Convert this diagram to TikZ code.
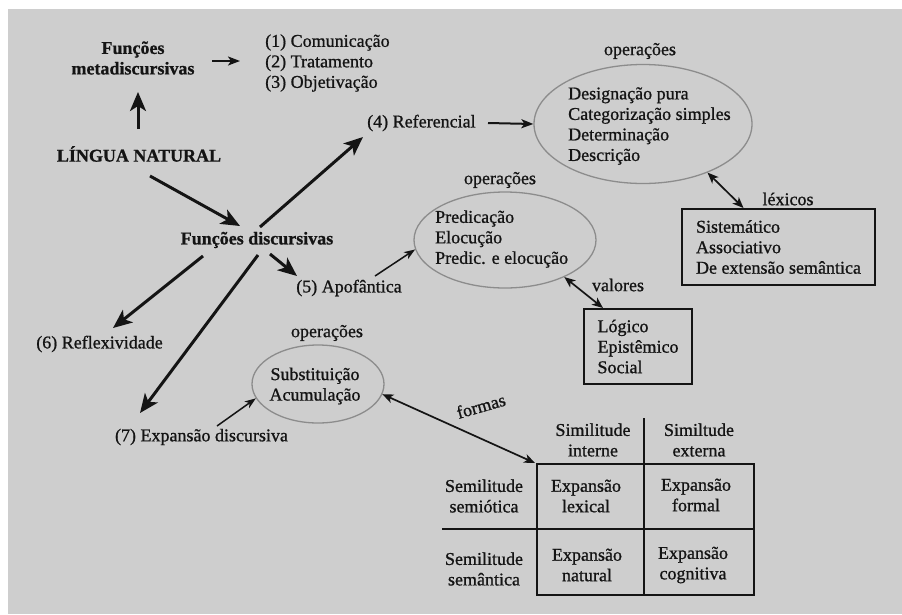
\documentclass[tikz,border=0pt]{standalone}
\usepackage{fontspec}
\setmainfont{Liberation Serif}[FakeBold=0.9]
\usetikzlibrary{arrows.meta,shapes.geometric}
\definecolor{bg}{RGB}{206,206,206}
\definecolor{ink}{RGB}{20,20,20}
\definecolor{ellc}{RGB}{140,140,140}
\begin{document}
\begin{tikzpicture}[x=1pt,y=-1pt,
  font=\fontsize{18}{20.5}\selectfont, text=ink,
  txt/.style={inner sep=0pt, align=center},
  bld/.style={inner sep=0pt, align=center, font=\fontsize{18}{20.5}\selectfont\bfseries},
  lft/.style={inner sep=0pt, align=left, anchor=west},
  ell/.style={ellipse, draw=ellc, line width=1.3pt, inner sep=0pt},
  bx/.style={draw=ink, line width=2pt, inner sep=0pt, align=left},
  big/.style={draw=ink, line width=3pt, -{Stealth[length=19pt,width=16pt,inset=5pt]}},
  med/.style={draw=ink, line width=2pt, -{Stealth[length=12pt,width=9pt,inset=3pt]}},
  thn/.style={draw=ink, line width=1.5pt, -{Stealth[length=11pt,width=8pt,inset=3pt]}},
  dbl/.style={draw=ink, line width=1.7pt, {Stealth[length=11pt,width=9pt,inset=3pt]}-{Stealth[length=11pt,width=9pt,inset=3pt]}},
  tbl/.style={draw=ink, line width=2pt}
]
\fill[white] (0,0) rectangle (902,614);
\useasboundingbox (0,0) rectangle (902,614);
\fill[bg] (8,9) rectangle (902,614);

% texts
\node[bld] (meta) at (133,58) {Funções\\metadiscursivas};
\node[lft] (list) at (265,63) {(1) Comunicação\\(2) Tratamento\\(3) Objetivação};
\node[bld] (lingua) at (139,154) {LÍNGUA NATURAL};
\node[bld] (fdisc) at (257,240) {Funções discursivas};
\node[lft] (ref) at (367,123) {(4) Referencial};
\node[txt] (op1) at (640,51) {operações};
\node[ell, minimum width=218pt, minimum height=119pt] (ell1) at (643,124) {};
\node[lft] (ell1t) at (568,126) {Designação pura\\Categorização simples\\Determinação\\Descrição};
\node[txt] (lexlab) at (788,199) {léxicos};
\node[bx, minimum width=193pt, minimum height=76pt] (lexbox) at (778.5,247) {Sistemático\\Associativo\\De extensão semântica};

\node[txt] (op2) at (500,180) {operações};
\node[ell, minimum width=182pt, minimum height=96pt] (ell2) at (505,240) {};
\node[lft] (ell2t) at (435,239) {Predicação\\Elocução\\Predic. e elocução};
\node[txt] (apo) at (349,288) {(5) Apofântica};
\node[txt] (vallab) at (618,285) {valores};
\node[bx, minimum width=108pt, minimum height=75pt] (valbox) at (638,346.5) {Lógico\\Epistêmico\\Social};

\node[txt] (refl) at (99.5,344) {(6) Reflexividade};
\node[txt] (exp7) at (201.5,437) {(7) Expansão discursiva};
\node[txt] (op3) at (327,333) {operações};
\node[ell, minimum width=132pt, minimum height=78pt] (ell3) at (318,384) {};
\node[txt] (ell3t) at (315,386) {Substituição\\Acumulação};
\node[txt, rotate=16] (formas) at (481,406) {formas};

% table
\coordinate (tl) at (537,464);
\draw[tbl] (tl) rectangle (754,595);
\draw[tbl] (644,418) -- (644,595);
\draw[tbl] (442,529) -- (754,529);
\node[txt] (h1) at (593,440) {Similitude\\interne};
\node[txt] (h2) at (699,440) {Similtude\\externa};
\node[txt] (r1) at (484,496) {Semilitude\\semiótica};
\node[txt] (r2) at (484,569) {Semilitude\\semântica};
\node[txt] (c11) at (586,496) {Expansão\\lexical};
\node[txt] (c12) at (696,495) {Expansão\\formal};
\node[txt] (c21) at (587,565) {Expansão\\natural};
\node[txt] (c22) at (693,565) {Expansão\\cognitiva};

% arrows
\draw[med] ([shift={(79,3)}]meta.center) -- ([shift={(-25,-2)}]list.west);
\draw[big] ([shift={(-1,-25)}]lingua.center) -- ([shift={(5,34)}]meta.center);
\draw[big] ([shift={(11,22)}]lingua.center) -- ([shift={(-17,-14)}]fdisc.center);
\draw[big] ([shift={(3,-13)}]fdisc.center) -- ([shift={(-4,14)}]ref.west);
\draw[med] ([shift={(121,0)}]ref.west) -- (ell1.west);
\draw[dbl] (ell1.-37) -- ([xshift=-35pt]lexbox.north);
\draw[big] ([shift={(13,14)}]fdisc.center) -- ([shift={(-52,-12)}]apo.center);
\draw[thn] ([shift={(26,-12)}]apo.center) -- (ell2.186);
\draw[dbl] (ell2.-32) -- ([xshift=-35pt]valbox.north);
\draw[big] ([shift={(-54,16)}]fdisc.center) -- ([shift={(13.5,-16)}]refl.center);
\draw[big] ([shift={(1,15)}]fdisc.center) -- ([shift={(-61.5,-24)}]exp7.center);
\draw[thn] ([shift={(15.5,-11)}]exp7.center) -- (ell3.193);
\draw[dbl] (ell3.-9) -- ([shift={(-2,-1)}]tl);
\end{tikzpicture}
\end{document}
